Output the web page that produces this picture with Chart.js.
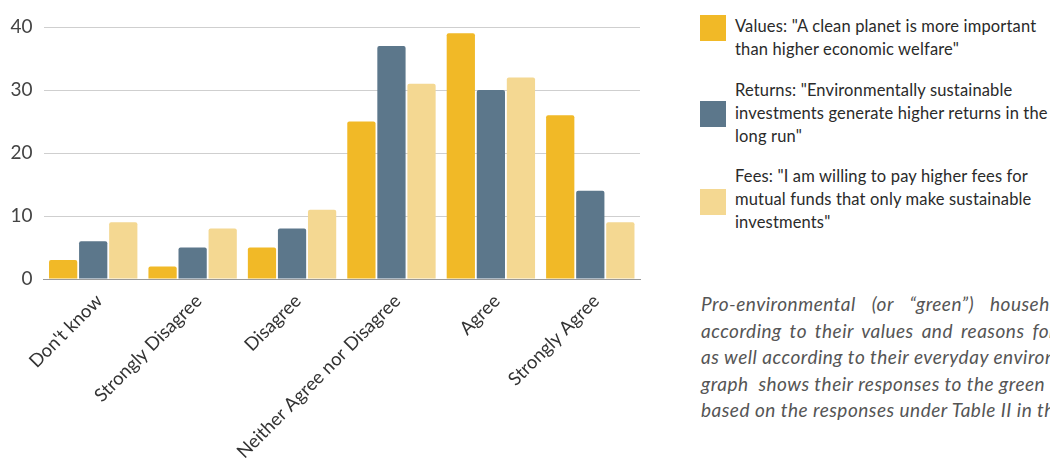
<!DOCTYPE html>
<html>
<head>
<meta charset="utf-8">
<script src="https://cdn.jsdelivr.net/npm/chart.js@4.4.1/dist/chart.umd.min.js"></script>
<style>
  html, body { margin: 0; padding: 0; background: #fff; overflow: hidden; }
  body { width: 1050px; height: 470px; position: relative; font-family: Lato, "Noto Sans", sans-serif; color: #333; }
  #chartBox { position: absolute; left: 0; top: 0; width: 660px; height: 470px; }
  #legend { position: absolute; left: 700px; top: 0; width: 360px; }
  .swatch { position: absolute; left: 0; width: 26px; height: 26px; }
  .txt { position: absolute; left: 35px; width: 340px; font-size: 16.5px; letter-spacing: 0.15px; line-height: 23px; white-space: nowrap; color: #2a2a2a; }
  #note { position: absolute; left: 701px; top: 291px; width: 560px; font-style: italic; font-size: 19px; letter-spacing: 0.5px; line-height: 26.5px; color: #555; }
  #note div { white-space: pre; }
</style>
</head>
<body>
<div id="chartBox"><canvas id="bar_canvas"></canvas></div>
<div id="legend"></div>
<div id="note">
  <div style="word-spacing: 11px">Pro-environmental (or “green”) households can be grouped</div>
  <div style="word-spacing: 3px">according to their values and reasons for investing,</div>
  <div>as well according to their everyday environmental behaviour. The</div>
  <div>graph  shows their responses to the green finance questions,</div>
  <div>based on the responses under Table II in the appendix.</div>
</div>
<script>
// data
var categories = ["Don't know", 'Strongly Disagree', 'Disagree', 'Neither Agree nor Disagree', 'Agree', 'Strongly Agree'];
var values_data  = [3, 2, 5, 25, 39, 26];
var returns_data = [6, 5, 8, 37, 30, 14];
var fees_data    = [9, 8, 11, 31, 32, 9];
var y_ticks = [0, 10, 20, 30, 40];

var series_names = [
    ['Values: "A clean planet is more important', 'than higher economic welfare"'],
    ['Returns: "Environmentally sustainable', 'investments generate higher returns in the', 'long run"'],
    ['Fees: "I am willing to pay higher fees for', 'mutual funds that only make sustainable', 'investments"']
];
var series_colors = ['#F1B927', '#5C778B', '#F4D892'];

Chart.defaults.font.family = 'Lato, "Noto Sans", sans-serif';
Chart.defaults.color = '#444';

var ChartData = {
    labels: categories,
    datasets: [
        { label: series_names[0].join(' '), data: values_data,  backgroundColor: series_colors[0] },
        { label: series_names[1].join(' '), data: returns_data, backgroundColor: series_colors[1] },
        { label: series_names[2].join(' '), data: fees_data,    backgroundColor: series_colors[2] }
    ]
};
ChartData.datasets.forEach(function (ds) {
    ds.categoryPercentage = 0.907;
    ds.barPercentage = 0.94;
    ds.borderRadius = { topLeft: 2, topRight: 2 };
    ds.borderSkipped = 'bottom';
});

var ChartOption = {
    responsive: true,
    maintainAspectRatio: false,
    animation: false,
    layout: { padding: { top: 27, right: 20, left: 0, bottom: 0 } },
    plugins: {
        legend: { display: false },
        tooltip: { enabled: false }
    },
    scales: {
        x: {
            grid: { display: false },
            border: { display: true, color: '#9a9a9a', width: 1 },
            ticks: {
                autoSkip: false,
                minRotation: 45,
                maxRotation: 45,
                padding: 3,
                labelOffset: 6,
                color: '#333',
                font: { size: 18.5 }
            },
            afterFit: function (scale) { scale.height = 191; }
        },
        y: {
            min: 0,
            max: 40,
            afterBuildTicks: function (scale) {
                scale.ticks = y_ticks.map(function (v) { return { value: v }; });
            },
            grid: { color: '#cfcfcf', drawTicks: false },
            border: { display: false },
            ticks: { padding: 11, color: '#444', font: { size: 19 } },
            afterFit: function (scale) { scale.width = 43.5; }
        }
    }
};

var bar_canvas = document.getElementById('bar_canvas');
var ctx = bar_canvas.getContext('2d');
var myBarChart = new Chart(ctx, {
    type: 'bar',
    data: ChartData,
    options: ChartOption
});

// legend on the right, built from the series names
var legend_tops = [15, 101, 189];
var text_tops = [15, 79, 165];
var legend = document.getElementById('legend');
series_names.forEach(function (lines, i) {
    var sw = document.createElement('div');
    sw.className = 'swatch';
    sw.style.top = legend_tops[i] + 'px';
    sw.style.background = series_colors[i];
    legend.appendChild(sw);
    var t = document.createElement('div');
    t.className = 'txt';
    t.style.top = text_tops[i] + 'px';
    t.innerHTML = lines.join('<br>');
    legend.appendChild(t);
});
</script>
</body>
</html>
